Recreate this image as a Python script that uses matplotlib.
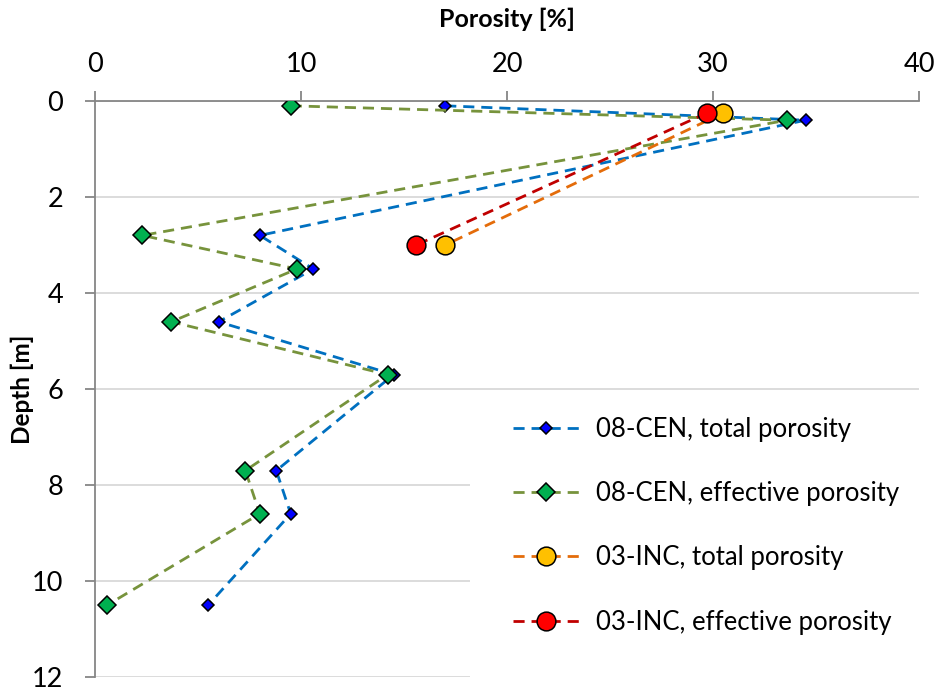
import matplotlib.pyplot as plt
from matplotlib.patches import Rectangle

plt.rcParams['font.family'] = ['Lato', 'DejaVu Sans']

# DATA
depth_08 = [0.1, 0.4, 2.8, 3.5, 4.6, 5.7, 7.7, 8.6, 10.5]
tot_08 = [17.0, 34.5, 8.0, 10.6, 6.0, 14.5, 8.8, 9.5, 5.5]
eff_08 = [9.5, 33.6, 2.3, 9.8, 3.7, 14.2, 7.3, 8.0, 0.6]

depth_03 = [0.25, 3.0]
tot_03 = [30.5, 17.0]
eff_03 = [29.7, 15.6]

x_ticks = [0, 10, 20, 30, 40]
y_ticks = [0, 2, 4, 6, 8, 10, 12]

fig = plt.figure(figsize=(9.39, 6.89), dpi=100)
ax = fig.add_axes([95 / 939, 1 - 677 / 689, 824 / 939, 576 / 689])

dash = (0, (4, 2.5))
ax.plot(tot_08, depth_08, linestyle=dash, lw=2, color='#0070C0', marker='D', ms=6.6,
        mfc='#0000FF', mec='black', mew=1.1, label='08-CEN, total porosity', zorder=3)
ax.plot(eff_08, depth_08, linestyle=dash, lw=2, color='#77933C', marker='D', ms=8.7,
        mfc='#00B050', mec='black', mew=1.1, label='08-CEN, effective porosity', zorder=3)
ax.plot(tot_03, depth_03, linestyle=dash, lw=2, color='#E46C0A', marker='o', ms=13.5,
        mfc='#FFC000', mec='black', mew=1.1, label='03-INC, total porosity', zorder=3)
ax.plot(eff_03, depth_03, linestyle=dash, lw=2, color='#C00000', marker='o', ms=13.5,
        mfc='#FF0000', mec='black', mew=1.1, label='03-INC, effective porosity', zorder=3)

ax.set_xlim(0, 40)
ax.set_ylim(12, 0)
ax.set_xticks(x_ticks)
ax.set_yticks(y_ticks)

ax.xaxis.tick_top()
ax.xaxis.set_label_position('top')
ax.set_xlabel('Porosity [%]', fontsize=18, fontweight='bold', labelpad=18)
ax.set_ylabel('Depth [m]', fontsize=17.5, fontweight='bold', labelpad=-2)

for side in ['right', 'bottom']:
    ax.spines[side].set_visible(False)
for side in ['left', 'top']:
    ax.spines[side].set_color('#868686')
    ax.spines[side].set_linewidth(1.3)

ax.tick_params(axis='both', colors='#868686', length=7, width=1.3, labelsize=19.5,
               labelcolor='black')
ax.tick_params(axis='x', pad=10)
ax.tick_params(axis='y', pad=16)

ax.set_axisbelow(True)
ax.yaxis.grid(True, color='#D9D9D9', lw=1.3)
ax.add_patch(Rectangle((0.455, -0.02), 0.6, 0.51, transform=ax.transAxes,
                       facecolor='white', edgecolor='none', zorder=0.8, clip_on=False))

ax.legend(loc='upper left', bbox_to_anchor=(0.507, 0.452), frameon=False, fontsize=18.5,
          handlelength=2.6, handletextpad=0.65, labelspacing=1.53, borderpad=0,
          borderaxespad=0)

fig.savefig('out.png', dpi=100)
